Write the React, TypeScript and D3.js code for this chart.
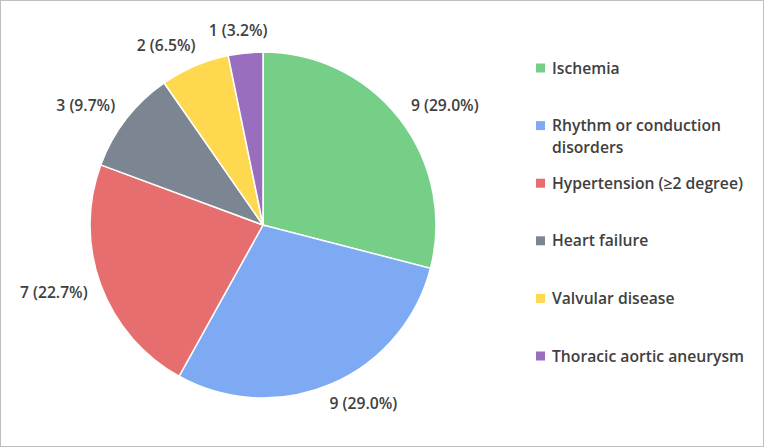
import { useEffect, useRef } from "react";
import * as d3 from "d3";

const categories = [
  "Ischemia",
  "Rhythm or conduction disorders",
  "Hypertension (≥2 degree)",
  "Heart failure",
  "Valvular disease",
  "Thoracic aortic aneurysm",
];
const counts = [9, 9, 7, 3, 2, 1];
const percentLabels = ["29.0%", "29.0%", "22.7%", "9.7%", "6.5%", "3.2%"];
const colors = ["#75cf87", "#7eaaf4", "#e76e6e", "#7c8693", "#fed94f", "#9a6ebf"];

const width = 765;
const height = 448;
const cx = 263;
const cy = 225;
const radius = 173;
const fontFamily = "'Open Sans', Lato, sans-serif";
const fontSize = 15.7;
const fontWeight = 600;
const textColor = "#404040";

// crude word wrap for legend entries
const wrap = (s: string, maxChars: number) => {
  const words = s.split(" ");
  const lines: string[] = [];
  let cur = "";
  words.forEach((w) => {
    const next = cur ? cur + " " + w : w;
    if (next.length > maxChars && cur) {
      lines.push(cur);
      cur = w;
    } else cur = next;
  });
  if (cur) lines.push(cur);
  return lines;
};

export default function App() {
  const ref = useRef<SVGSVGElement>(null);

  useEffect(() => {
    const svg = d3.select(ref.current);
    svg.selectAll("*").remove();

    svg
      .append("rect")
      .attr("x", 0.5)
      .attr("y", 0.5)
      .attr("width", width - 2)
      .attr("height", height - 2)
      .attr("fill", "white")
      .attr("stroke", "#bfbfbf");

    const data = categories.map((c, i) => ({
      name: c,
      value: counts[i],
      pct: percentLabels[i],
      color: colors[i],
    }));

    const pie = d3
      .pie<any>()
      .value((d) => d.value)
      .sort(null);
    const arcs = pie(data);
    const arc = d3.arc<any>().innerRadius(0).outerRadius(radius);

    const g = svg.append("g").attr("transform", `translate(${cx},${cy})`);
    g.selectAll("path")
      .data(arcs)
      .join("path")
      .attr("d", arc)
      .attr("fill", (d) => d.data.color)
      .attr("stroke", "white")
      .attr("stroke-width", 1.5);

    // outside-end labels
    const labels = g
      .selectAll("text.lbl")
      .data(arcs)
      .join("text")
      .attr("class", "lbl")
      .attr("font-family", fontFamily)
      .attr("font-size", fontSize)
      .attr("font-weight", fontWeight)
      .attr("fill", textColor)
      .attr("text-anchor", "middle")
      .attr("dominant-baseline", "central")
      .text((d) => `${d.data.value} (${d.data.pct})`);

    labels.each(function (d) {
      const node = this as SVGTextElement;
      const w = node.getComputedTextLength();
      const h = 16;
      const a = (d.startAngle + d.endAngle) / 2;
      const s = Math.sin(a);
      const c = Math.cos(a);
      const r = radius + 14;
      const px = r * s;
      const py = -r * c;
      const f = Math.sign(s) * Math.min(1, Math.abs(s) * 2);
      d3.select(node)
        .attr("x", px + (f * w) / 2)
        .attr("y", py - (c * h) / 2 - 1);
    });

    // legend
    const ly = d3
      .scalePoint<string>()
      .domain(categories)
      .range([68, 356]);
    const legend = svg
      .append("g")
      .selectAll("g")
      .data(data)
      .join("g")
      .attr("transform", (d) => `translate(536,${ly(d.name)})`);
    legend
      .append("rect")
      .attr("x", 0)
      .attr("y", -4.5)
      .attr("width", 9)
      .attr("height", 9)
      .attr("fill", (d) => d.color);
    legend
      .append("text")
      .attr("font-family", fontFamily)
      .attr("font-size", fontSize)
      .attr("font-weight", fontWeight)
      .attr("fill", textColor)
      .selectAll("tspan")
      .data((d) => wrap(d.name, 26))
      .join("tspan")
      .attr("x", 16)
      .attr("y", (_, i) => i * 22)
      .attr("dy", "0.35em")
      .text((t) => t);
  }, []);

  return (
    <svg
      ref={ref}
      width={width}
      height={height}
      style={{ position: "absolute", left: 0, top: 0 }}
    />
  );
}
